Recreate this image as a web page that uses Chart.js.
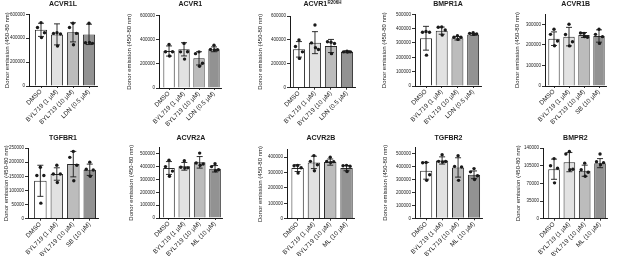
<!DOCTYPE html>
<html><head><meta charset="utf-8">
<script src="https://cdn.jsdelivr.net/npm/chart.js@4"></script>
<style>
html,body{margin:0;padding:0;background:#fff;width:617px;height:256px;overflow:hidden;position:relative}
canvas{position:absolute}
</style></head><body>
<script>
// ---------- DATA ----------
const yAxisTitle = 'Donor emission (450-80 nm)';
const catsLDN = ['DMSO', 'BYL719 (1 µM)', 'BYL719 (10 µM)', 'LDN (0.5 µM)'];
const catsSB  = ['DMSO', 'BYL719 (1 µM)', 'BYL719 (10 µM)', 'SB (10 µM)'];
const catsML  = ['DMSO', 'BYL719 (1 µM)', 'BYL719 (10 µM)', 'ML (10 µM)'];

const meanACVR1L = [470000, 432000, 449000, 432000];
const sdACVR1L   = [55000, 88000, 80000, 85000];
const ptsACVR1L  = [[530000, 490000, 445000, 405000], [445000, 440000, 435000, 335000], [525000, 490000, 440000, 345000], [525000, 362000, 357000, 365000]];

const meanACVR1 = [307000, 321000, 246000, 321000];
const sdACVR1   = [42000, 55000, 55000, 20000];
const ptsACVR1  = [[362000, 301000, 301000, 265000], [370000, 300000, 301000, 240000], [300000, 285000, 205000, 180000], [355000, 320000, 318000, 315000]];

const meanACVR1R206H = [321000, 377000, 349000, 301000];
const sdACVR1R206H   = [65000, 92000, 55000, 8000];
const ptsACVR1R206H  = [[400000, 345000, 300000, 245000], [525000, 375000, 320000, 335000], [380000, 385000, 370000, 285000], [305000, 300000, 300000, 298000]];

const meanBMPR1A = [333000, 386000, 333000, 360000];
const sdBMPR1A   = [83000, 25000, 12000, 6000];
const ptsBMPR1A  = [[380000, 375000, 375000, 215000], [412000, 410000, 390000, 355000], [350000, 340000, 340000, 325000], [372000, 367000, 363000, 360000]];

const meanACVR1B = [230000, 240000, 248000, 243000];
const sdACVR1B   = [33000, 45000, 12000, 30000];
const ptsACVR1B  = [[276000, 251000, 219000, 196000], [300000, 250000, 215000, 195000], [256000, 258000, 237000, 240000], [276000, 251000, 240000, 207000]];

const meanTGFBR1 = [134000, 158000, 193000, 173000];
const sdTGFBR1   = [55000, 22000, 45000, 20000];
const ptsTGFBR1  = [[182000, 153000, 153000, 55000], [189000, 158000, 158000, 128000], [238000, 217000, 189000, 134000], [200000, 175000, 172000, 150000]];

const meanACVR2A = [389000, 402000, 433000, 383000];
const sdACVR2A   = [50000, 30000, 45000, 25000];
const ptsACVR2A  = [[450000, 400000, 365000, 325000], [446000, 395000, 390000, 388000], [505000, 428000, 420000, 410000], [422000, 400000, 375000, 368000]];

const meanACVR2B = [328000, 365000, 367000, 328000];
const sdACVR2B   = [22000, 40000, 20000, 17000];
const ptsACVR2B  = [[345000, 343000, 330000, 296000], [409000, 372000, 350000, 311000], [398000, 372000, 370000, 365000], [346000, 343000, 340000, 306000]];

const meanTGFBR2 = [368000, 448000, 394000, 337000];
const sdTGFBR2   = [65000, 28000, 75000, 30000];
const ptsTGFBR2  = [[433000, 430000, 337000, 294000], [492000, 441000, 440000, 436000], [484000, 402000, 397000, 294000], [385000, 360000, 330000, 300000]];

const meanBMPR2 = [98000, 112000, 95000, 110000];
const sdBMPR2   = [20000, 19000, 11000, 9000];
const ptsBMPR2  = [[119000, 105000, 100000, 71000], [133000, 128000, 98000, 97000], [110000, 97000, 92000, 84000], [128000, 113000, 111000, 107000]];

const panelTitles = ['ACVR1L', 'ACVR1', 'ACVR1', 'BMPR1A', 'ACVR1B', 'TGFBR1', 'ACVR2A', 'ACVR2B', 'TGFBR2', 'BMPR2'];
const panelSup    = ['', '', 'R206H', '', '', '', '', '', '', ''];
const axisMax  = [600000, 600000, 600000, 500000, 350000, 250000, 550000, 450000, 550000, 140000];
const ticks600 = [0, 200000, 400000, 600000];
const ticks500 = [0, 100000, 200000, 300000, 400000, 500000];
const ticks300 = [0, 100000, 200000, 300000];
const ticks250 = [0, 50000, 100000, 150000, 200000, 250000];
const ticks400 = [0, 100000, 200000, 300000, 400000];
const ticks140 = [0, 35000, 70000, 105000, 140000];
const axisTicks = [ticks600, ticks600, ticks600, ticks500, ticks300, ticks250, ticks500, ticks400, ticks500, ticks140];

const panels = [
  {cats: catsLDN, mean: meanACVR1L, sd: sdACVR1L, pts: ptsACVR1L},
  {cats: catsLDN, mean: meanACVR1, sd: sdACVR1, pts: ptsACVR1},
  {cats: catsLDN, mean: meanACVR1R206H, sd: sdACVR1R206H, pts: ptsACVR1R206H},
  {cats: catsLDN, mean: meanBMPR1A, sd: sdBMPR1A, pts: ptsBMPR1A},
  {cats: catsSB, mean: meanACVR1B, sd: sdACVR1B, pts: ptsACVR1B},
  {cats: catsSB, mean: meanTGFBR1, sd: sdTGFBR1, pts: ptsTGFBR1},
  {cats: catsML, mean: meanACVR2A, sd: sdACVR2A, pts: ptsACVR2A},
  {cats: catsML, mean: meanACVR2B, sd: sdACVR2B, pts: ptsACVR2B},
  {cats: catsML, mean: meanTGFBR2, sd: sdTGFBR2, pts: ptsTGFBR2},
  {cats: catsML, mean: meanBMPR2, sd: sdBMPR2, pts: ptsBMPR2}
];

// ---------- LAYOUT (page pixels) ----------
const geom = [
  {lab: 8,   L: 29,  R: 97,    T: 14.3,  B: 86,    off: 0.75, titleY: 4.5},
  {lab: 130, L: 159, R: 221.5, T: 15.7,  B: 88,    off: 0.67, titleY: 4.5},
  {lab: 261, L: 290, R: 355,   T: 16,    B: 87.7,  off: 0.56, titleY: 4.5},
  {lab: 385, L: 415, R: 481,   T: 14.3,  B: 86,    off: 0.70, titleY: 4.5},
  {lab: 518, L: 545, R: 606.5, T: 14,    B: 86,    off: 0.60, titleY: 4.5},
  {lab: 7,   L: 28,  R: 98,    T: 148,   B: 218.7, off: 0.75, titleY: 138},
  {lab: 132, L: 159, R: 222.7, T: 147.3, B: 218,   off: 0.65, titleY: 138},
  {lab: 261, L: 287, R: 354.7, T: 149.3, B: 218.7, off: 0.65, titleY: 138},
  {lab: 386, L: 415, R: 482,   T: 147.3, B: 218.3, off: 0.70, titleY: 138},
  {lab: 519, L: 543, R: 607.7, T: 148,   B: 218.7, off: 0.72, titleY: 138}
];
const barFills = ['#ffffff', '#e2e2e2', '#bcbcbc', '#929292'];
const jitter = [0, -3.5, 3.5, 0.5];
const FONT = "'Liberation Sans', Arial, sans-serif";
const INK = '#1a1a1a';

panels.forEach((p, k) => {
  const g = geom[k];
  const rowTop = k < 5 ? 0 : 128;
  const x0 = Math.round(g.lab - 3.6);
  const cw = Math.ceil(g.R - x0 + 8);
  const ch = 128;
  const canvas = document.createElement('canvas');
  canvas.width = cw; canvas.height = ch;
  canvas.style.left = x0 + 'px'; canvas.style.top = rowTop + 'px';
  canvas.style.width = cw + 'px'; canvas.style.height = ch + 'px';
  document.body.appendChild(canvas);

  const overlay = {
    id: 'overlay' + k,
    afterDatasetsDraw(chart) {
      const xs = chart.scales.x, ys = chart.scales.y, ctx = chart.ctx;
      ctx.save();
      ctx.strokeStyle = INK; ctx.fillStyle = INK; ctx.lineWidth = 0.9;
      p.mean.forEach((m, i) => {
        const x = xs.getPixelForValue(i);
        const y1 = ys.getPixelForValue(m + p.sd[i]);
        const y2 = ys.getPixelForValue(Math.max(0, m - p.sd[i]));
        ctx.beginPath();
        ctx.moveTo(x, y1); ctx.lineTo(x, y2);
        ctx.moveTo(x - 3, y1); ctx.lineTo(x + 3, y1);
        ctx.moveTo(x - 3, y2); ctx.lineTo(x + 3, y2);
        ctx.stroke();
      });
      p.pts.forEach((arr, i) => {
        const x = xs.getPixelForValue(i);
        arr.forEach((v, j) => {
          ctx.beginPath();
          ctx.arc(x + jitter[j], ys.getPixelForValue(v), 1.7, 0, Math.PI * 2);
          ctx.fill();
        });
      });
      ctx.restore();
    },
    afterDraw(chart) {
      const ctx = chart.ctx, ca = chart.chartArea;
      ctx.save();
      ctx.fillStyle = INK;
      ctx.textBaseline = 'middle';
      const main = panelTitles[k], sup = panelSup[k];
      ctx.font = 'bold 7px ' + FONT;
      const w1 = ctx.measureText(main).width;
      ctx.font = 'bold 4.5px ' + FONT;
      const w2 = sup ? ctx.measureText(sup).width + 0.5 : 0;
      const cx = (ca.left + ca.right) / 2;
      const sx = cx - (w1 + w2) / 2;
      const ty = g.titleY - rowTop;
      ctx.textAlign = 'left';
      ctx.font = 'bold 7px ' + FONT;
      ctx.fillText(main, sx, ty);
      if (sup) {
        ctx.font = 'bold 4.5px ' + FONT;
        ctx.fillText(sup, sx + w1 + 0.5, ty - 2.2);
      }
      ctx.restore();
    }
  };

  new Chart(canvas, {
    type: 'bar',
    data: {
      labels: p.cats,
      datasets: [{
        data: p.mean,
        backgroundColor: barFills,
        borderColor: '#2a2a2a',
        borderWidth: 1,
        barPercentage: 0.76,
        categoryPercentage: 1
      }]
    },
    options: {
      responsive: false,
      devicePixelRatio: 1,
      animation: false,
      events: [],
      layout: {padding: {left: 0, top: g.T - rowTop, right: cw - (g.R - x0), bottom: 0}},
      plugins: {legend: {display: false}, tooltip: {enabled: false}, title: {display: false}},
      scales: {
        x: {
          type: 'category',
          offset: true,
          grid: {display: true, drawOnChartArea: false, drawTicks: true, tickLength: 2, offset: false, color: INK, lineWidth: 0.9},
          border: {display: true, color: INK, width: 1},
          ticks: {minRotation: 45, maxRotation: 45, autoSkip: false, padding: 0, color: INK,
                  font: {size: 6.3, family: FONT}},
          afterBuildTicks: (s) => { s._startValue = -g.off; s._valueRange = 3 + g.off + 0.5; },
          afterFit: (s) => { s.height = ch - (g.B - rowTop); }
        },
        y: {
          min: 0, max: axisMax[k],
          grid: {display: true, drawOnChartArea: false, drawTicks: true, tickLength: 3, color: INK, lineWidth: 0.9},
          border: {display: true, color: INK, width: 1},
          ticks: {padding: 1, color: INK, autoSkip: false,
                  font: {size: 4.5, family: FONT}, callback: (v) => String(v)},
          afterBuildTicks: (s) => { s.ticks = axisTicks[k].map(v => ({value: v})); },
          title: {display: true, text: yAxisTitle, color: INK, padding: 0, font: {size: 6, family: FONT}},
          afterFit: (s) => { s.width = g.L - x0; }
        }
      }
    },
    plugins: [overlay]
  });
});
</script>
</body></html>
